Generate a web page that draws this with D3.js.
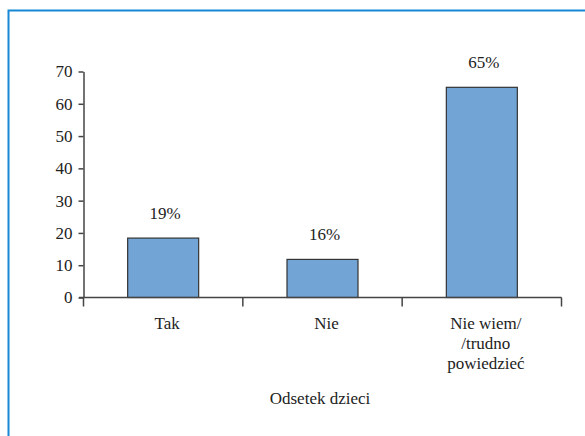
<!DOCTYPE html>
<html lang="pl">
    <head>
        <meta charset="utf-8" />
        <title>Odsetek dzieci</title>
        <script src="https://d3js.org/d3.v7.min.js"></script>
        <style>
            body {
                margin: 0;
                background: #fff;
            }
            svg text {
                fill: #222;
            }
        </style>
    </head>
    <body>
        <div id="chart"></div>

        <script>
            // data
            var categories = ["Tak", "Nie", "Nie wiem/\n/trudno\npowiedzieć"];
            var values = [18.4, 11.8, 65.1];
            var valueLabels = ["19%", "16%", "65%"];
            var yTicks = [0, 10, 20, 30, 40, 50, 60, 70];
            var xTitle = "Odsetek dzieci";

            var width = 585,
                height = 436;
            var serif = "'Liberation Serif', 'DejaVu Serif', 'Times New Roman', serif";
            var fs = 17;

            var svg = d3
                .select("#chart")
                .append("svg")
                .attr("width", width)
                .attr("height", height)
                .attr("font-family", serif);

            // blue frame, top and left only
            svg.append("path")
                .attr("d", "M8.5," + height + "V10.5H" + width)
                .attr("fill", "none")
                .attr("stroke", "#1787d6")
                .attr("stroke-width", 2);

            var x = d3
                .scaleBand()
                .domain(categories)
                .range([83.5, 561.5])
                .paddingInner(0)
                .paddingOuter(0);

            var y = d3.scaleLinear().domain([0, 70]).range([297.5, 71.5]);

            var barW = 71;

            // y axis
            var yAxis = svg
                .append("g")
                .attr("transform", "translate(83.5,0)")
                .call(
                    d3
                        .axisLeft(y)
                        .tickValues(yTicks)
                        .tickSize(5)
                        .tickPadding(6)
                        .tickSizeOuter(0)
                )
                .attr("font-family", serif)
                .attr("font-size", fs);
            yAxis.select(".domain").attr("stroke", "#444").attr("stroke-width", 1.5);
            yAxis.selectAll(".tick line").attr("stroke", "#444").attr("stroke-width", 1.5);
            yAxis.selectAll(".tick text").attr("fill", "#222");

            // bars
            svg.selectAll(".bar")
                .data(values)
                .enter()
                .append("rect")
                .attr("class", "bar")
                .attr("x", (d, i) => x(categories[i]) + x.bandwidth() / 2 - barW / 2)
                .attr("y", (d) => y(d))
                .attr("width", barW)
                .attr("height", (d) => y(0) - y(d))
                .attr("fill", "#72a4d5")
                .attr("stroke", "#333")
                .attr("stroke-width", 1.2);

            // x axis line and category boundary ticks
            svg.append("line")
                .attr("x1", 79)
                .attr("x2", x.range()[1])
                .attr("y1", y(0))
                .attr("y2", y(0))
                .attr("stroke", "#444")
                .attr("stroke-width", 1.5);

            var bounds = [x.range()[0]].concat(
                categories.map((c) => x(c) + x.bandwidth())
            );
            svg.selectAll(".xtick")
                .data(bounds)
                .enter()
                .append("line")
                .attr("x1", (d) => d)
                .attr("x2", (d) => d)
                .attr("y1", y(0))
                .attr("y2", y(0) + 9)
                .attr("stroke", "#444")
                .attr("stroke-width", 1.5);

            // value labels above bars
            svg.selectAll(".vlabel")
                .data(values)
                .enter()
                .append("text")
                .attr("x", (d, i) => x(categories[i]) + x.bandwidth() / 2 + 2)
                .attr("y", (d) => y(d) - 19)
                .attr("text-anchor", "middle")
                .attr("font-size", fs)
                .text((d, i) => valueLabels[i]);

            // category labels, may span several lines
            var cat = svg
                .selectAll(".cat")
                .data(categories)
                .enter()
                .append("text")
                .attr("text-anchor", "middle")
                .attr("font-size", fs);
            cat.selectAll("tspan")
                .data((d) => d.split("\n"))
                .enter()
                .append("tspan")
                .attr("x", function () {
                    var c = d3.select(this.parentNode).datum();
                    return x(c) + x.bandwidth() / 2 + 4;
                })
                .attr("y", (d, i) => 329 + i * 20)
                .text((d) => d);

            svg.append("text")
                .attr("x", 320)
                .attr("y", 404)
                .attr("text-anchor", "middle")
                .attr("font-size", fs)
                .text(xTitle);
        </script>
    </body>
</html>
